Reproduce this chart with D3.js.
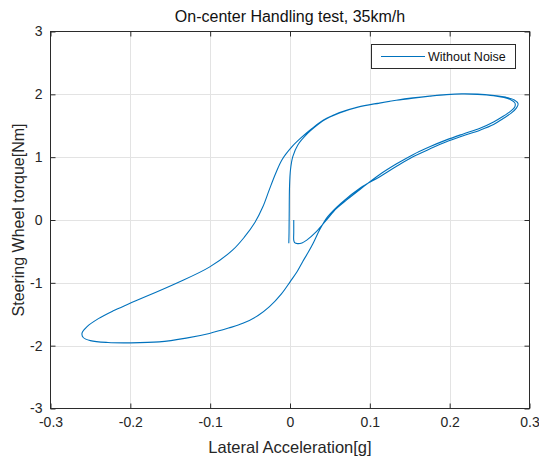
<!DOCTYPE html>
<html><head><meta charset="utf-8">
<script src="https://cdn.jsdelivr.net/npm/d3@7/dist/d3.min.js"></script>
<style>
html,body{margin:0;padding:0;background:#fff;}
svg{display:block;font-family:"Liberation Sans",Arial,Helvetica,sans-serif;}
</style></head>
<body>
<script>
// ---- data (lateral acceleration [g], steering wheel torque [Nm]) ----
const startHook = [[0.0047,0],[0.0047,-0.2],[0.0047,-0.32],[0.0058,-0.36],[0.0095,-0.376],[0.015,-0.365],[0.021,-0.32],[0.033,-0.185],[0.045,-0.01],[0.058,0.18],[0.071,0.32],[0.088,0.49]];
const rightLoop1 = [[0.112,0.72],[0.133,0.89],[0.154,1.04],[0.175,1.165],[0.196,1.275],[0.217,1.37],[0.238,1.46],[0.255,1.56],[0.267,1.65],[0.276,1.73],[0.2815,1.80],[0.2818,1.86],[0.277,1.91],[0.268,1.95],[0.255,1.98],[0.235,2.0],[0.215,2.005],[0.196,1.995],[0.175,1.97],[0.154,1.94],[0.133,1.905],[0.112,1.86],[0.085,1.795],[0.062,1.705],[0.042,1.59],[0.028,1.46]];
const leftLoop = [[0.014,1.31],[0.002,1.16],[-0.010,0.96],[-0.018,0.74],[-0.026,0.48],[-0.034,0.21],[-0.044,-0.04],[-0.057,-0.27],[-0.072,-0.48],[-0.101,-0.75],[-0.143,-1.01],[-0.201,-1.33],[-0.222,-1.45],[-0.240,-1.57],[-0.2545,-1.70],[-0.2605,-1.80],[-0.259,-1.87],[-0.250,-1.92],[-0.228,-1.95],[-0.201,-1.955],[-0.164,-1.94],[-0.130,-1.88],[-0.101,-1.805],[-0.077,-1.72],[-0.059,-1.645],[-0.040,-1.52],[-0.0257,-1.38],[-0.011,-1.18],[0.0003,-0.98],[0.009,-0.82],[0.016,-0.66],[0.023,-0.51],[0.029,-0.37],[0.037,-0.16],[0.047,0.05],[0.064,0.27],[0.088,0.51]];
const rightLoop2 = [[0.112,0.685],[0.133,0.85],[0.154,1.005],[0.175,1.13],[0.196,1.245],[0.217,1.34],[0.238,1.43],[0.255,1.52],[0.267,1.615],[0.277,1.70],[0.2835,1.78],[0.2857,1.85],[0.281,1.91],[0.270,1.955],[0.256,1.98],[0.235,2.005],[0.215,2.01],[0.196,1.998],[0.175,1.974],[0.154,1.944],[0.133,1.907],[0.112,1.863],[0.085,1.799],[0.062,1.709],[0.044,1.60],[0.031,1.48]];
const endDrop = [[0.0223,1.381],[0.0098,1.194],[0.0035,1.008],[0.0006,0.80],[-0.0006,0.53],[-0.001,0.1],[-0.0012,-0.2],[-0.0015,-0.37]];

const xTicks = [-0.3,-0.2,-0.1,0,0.1,0.2,0.3];
const yTicks = [-3,-2,-1,0,1,2,3];
const titleText = "On-center Handling test, 35km/h";
const xLabel = "Lateral Acceleration[g]";
const yLabel = "Steering Wheel torque[Nm]";
const legendLabel = "Without Noise";
const lineColor = "#0072BD";

const W = 539, H = 458;
const svg = d3.select("body").append("svg").attr("width", W).attr("height", H);

const x = d3.scaleLinear().domain([-0.3, 0.3]).range([50.5, 529.5]);
const y = d3.scaleLinear().domain([-3, 3]).range([408.5, 31.5]);

const axisColor = "#2b2b2b";
const gridColor = "#e3e3e3";

// grid
svg.append("g").selectAll("line").data(xTicks.slice(1,-1)).join("line")
  .attr("x1", d => Math.round(x(d)) + 0.5).attr("x2", d => Math.round(x(d)) + 0.5)
  .attr("y1", y(3)).attr("y2", y(-3)).attr("stroke", gridColor).attr("stroke-width", 1);
svg.append("g").selectAll("line").data(yTicks.slice(1,-1)).join("line")
  .attr("y1", d => Math.round(y(d)) + 0.5).attr("y2", d => Math.round(y(d)) + 0.5)
  .attr("x1", x(-0.3)).attr("x2", x(0.3)).attr("stroke", gridColor).attr("stroke-width", 1);

// data line
const trace = [].concat(startHook, rightLoop1, leftLoop, rightLoop2, endDrop);
const line = d3.line().x(d => x(d[0])).y(d => y(d[1])).curve(d3.curveCatmullRom.alpha(0.5));
svg.append("path").datum(trace).attr("d", line)
  .attr("fill", "none").attr("stroke", lineColor).attr("stroke-width", 1.1);

// axes (ticks inward on all four sides)
const tickLen = 5;
const fmt = d => d === 0 ? "0" : String(d);
const axB = d3.axisBottom(x).tickValues(xTicks).tickSize(-tickLen).tickPadding(9).tickFormat(fmt);
const axT = d3.axisTop(x).tickValues(xTicks).tickSize(-tickLen).tickFormat("");
const axL = d3.axisLeft(y).tickValues(yTicks).tickSize(-tickLen).tickPadding(8).tickFormat(fmt);
const axR = d3.axisRight(y).tickValues(yTicks).tickSize(-tickLen).tickFormat("");

function style(g){
  g.selectAll(".domain").remove();
  g.selectAll(".tick line").attr("stroke", axisColor);
  g.selectAll(".tick text").attr("fill", "#262626").style("font-size", "14px")
   .style("font-family", "'Liberation Sans',Arial,sans-serif");
}
svg.append("g").attr("transform", `translate(0,${y(-3)})`).call(axB).call(style);
svg.append("g").attr("transform", `translate(0,${y(3)})`).call(axT).call(style);
svg.append("g").attr("transform", `translate(${x(-0.3)},0)`).call(axL).call(style);
svg.append("g").attr("transform", `translate(${x(0.3)},0)`).call(axR).call(style);

// box
svg.append("rect").attr("x", x(-0.3)).attr("y", y(3))
  .attr("width", x(0.3) - x(-0.3)).attr("height", y(-3) - y(3))
  .attr("fill", "none").attr("stroke", axisColor).attr("stroke-width", 1);

// title and labels
svg.append("text").attr("x", (x(-0.3)+x(0.3))/2).attr("y", 22).attr("text-anchor", "middle")
  .attr("fill", "#111").style("font-size", "16px").text(titleText);
svg.append("text").attr("x", (x(-0.3)+x(0.3))/2).attr("y", 452.5).attr("text-anchor", "middle")
  .attr("fill", "#262626").style("font-size", "16.5px").text(xLabel);
svg.append("text").attr("transform", `translate(24,${(y(3)+y(-3))/2}) rotate(-90)`)
  .attr("text-anchor", "middle").attr("fill", "#262626").style("font-size", "16px").text(yLabel);

// legend
const lg = svg.append("g");
lg.append("rect").attr("x", 371.5).attr("y", 44.5).attr("width", 144).attr("height", 24)
  .attr("fill", "#fff").attr("stroke", axisColor).attr("stroke-width", 1);
lg.append("line").attr("x1", 381).attr("x2", 425).attr("y1", 56.5).attr("y2", 56.5)
  .attr("stroke", lineColor).attr("stroke-width", 1.1);
lg.append("text").attr("x", 428).attr("y", 61).attr("fill", "#111").style("font-size", "12.5px").text(legendLabel);
</script>
</body></html>
